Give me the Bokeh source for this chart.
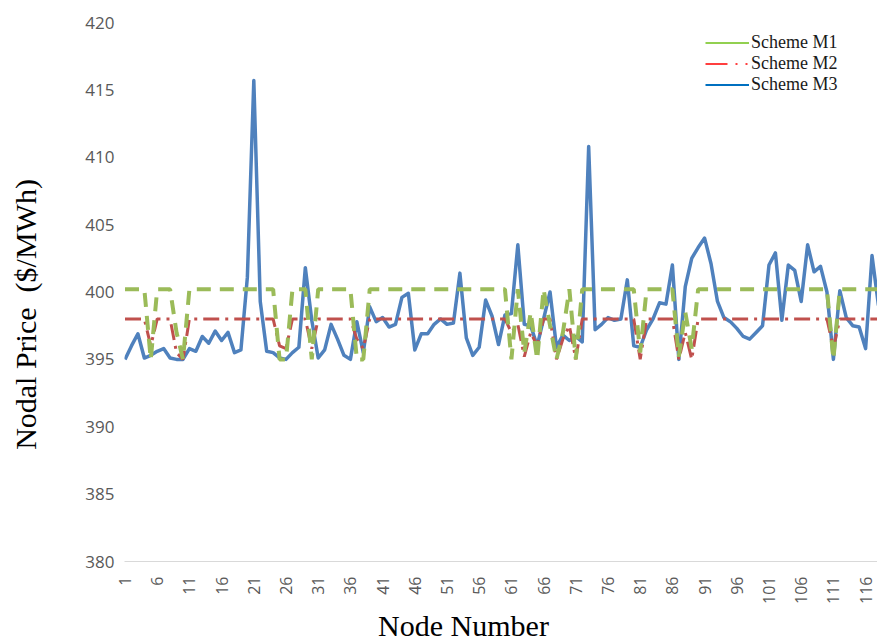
import math
from bokeh.plotting import figure
from bokeh.models import FixedTicker, Legend, LegendItem
from bokeh.embed import file_html
from bokeh.resources import INLINE

# ---------------- data ----------------
nodes = list(range(1, 119))

scheme_m3 = [
    395.0, 396.0, 396.9, 395.1, 395.3, 395.6, 395.8, 395.1, 395.0, 395.0,
    395.8, 395.6, 396.7, 396.2, 397.1, 396.4, 397.0, 395.5, 395.7, 401.1,
    415.7, 399.3, 395.6, 395.5, 395.1, 395.0, 395.5, 395.9, 401.8, 397.9,
    395.1, 395.7, 397.6, 396.5, 395.3, 395.0, 397.8, 395.5, 398.9, 397.8,
    398.1, 397.4, 397.6, 399.6, 399.9, 395.7, 396.9, 396.9, 397.6, 398.0,
    397.6, 397.7, 401.4, 396.6, 395.3, 395.9, 399.4, 398.2, 396.1, 398.3,
    398.4, 403.5, 397.6, 397.5, 396.0, 398.0, 400.0, 395.9, 396.8, 396.4,
    396.7, 396.3, 410.8, 397.2, 397.6, 398.1, 397.9, 398.0, 400.9, 396.0,
    395.9, 397.2, 398.0, 399.2, 399.1, 402.0, 395.0, 400.4, 402.5, 403.3,
    404.0, 402.1, 399.3, 398.1, 397.8, 397.3, 396.7, 396.5, 397.0, 397.5,
    402.0, 402.9, 397.9, 402.0, 401.6, 399.3, 403.5, 401.5, 401.9, 400.0,
    395.0, 400.1, 398.1, 397.5, 397.4, 395.8, 402.7, 399.0,
]

scheme_m1 = [
    400.2, 400.2, 400.2, 400.2, 395.0, 400.2, 400.2, 400.2, 397.0, 395.0,
    400.2, 400.2, 400.2, 400.2, 400.2, 400.2, 400.2, 400.2, 400.2, 400.2,
    400.2, 400.2, 400.2, 400.2, 395.0, 395.0, 400.2, 400.2, 400.2, 395.0,
    400.2, 400.2, 400.2, 400.2, 400.2, 400.2, 395.0, 395.0, 400.2, 400.2,
    400.2, 400.2, 400.2, 400.2, 400.2, 400.2, 400.2, 400.2, 400.2, 400.2,
    400.2, 400.2, 400.2, 400.2, 400.2, 400.2, 400.2, 400.2, 400.2, 400.2,
    395.0, 400.2, 395.5, 398.5, 395.0, 400.2, 397.5, 395.0, 397.0, 400.2,
    395.0, 400.2, 400.2, 400.2, 400.2, 400.2, 400.2, 400.2, 400.2, 400.2,
    395.5, 400.2, 400.2, 400.2, 400.2, 400.2, 395.2, 398.5, 395.8, 400.2,
    400.2, 400.2, 400.2, 400.2, 400.2, 400.2, 400.2, 400.2, 400.2, 400.2,
    400.2, 400.2, 400.2, 400.2, 400.2, 400.2, 400.2, 400.2, 400.2, 400.2,
    395.0, 400.2, 400.2, 400.2, 400.2, 400.2, 400.2, 400.2,
]

scheme_m2 = [
    398.0, 398.0, 398.0, 398.0, 396.0, 398.0, 398.0, 398.0, 395.5, 395.0,
    398.0, 398.0, 398.0, 398.0, 398.0, 398.0, 398.0, 398.0, 398.0, 398.0,
    398.0, 398.0, 398.0, 398.0, 396.0, 395.8, 398.0, 398.0, 398.0, 395.8,
    398.0, 398.0, 398.0, 398.0, 398.0, 398.0, 396.5, 395.8, 398.0, 398.0,
    398.0, 398.0, 398.0, 398.0, 398.0, 398.0, 398.0, 398.0, 398.0, 398.0,
    398.0, 398.0, 398.0, 398.0, 398.0, 398.0, 398.0, 398.0, 398.0, 398.0,
    397.0, 397.6, 395.2, 397.0, 396.0, 398.0, 398.0, 395.0, 396.5, 397.5,
    395.0, 398.0, 398.0, 398.0, 398.0, 398.0, 398.0, 398.0, 398.0, 398.0,
    395.0, 398.0, 398.0, 398.0, 398.0, 398.0, 395.0, 397.0, 395.0, 398.0,
    398.0, 398.0, 398.0, 398.0, 398.0, 398.0, 398.0, 398.0, 398.0, 398.0,
    398.0, 398.0, 398.0, 398.0, 398.0, 398.0, 398.0, 398.0, 398.0, 398.0,
    395.8, 398.0, 398.0, 398.0, 398.0, 398.0, 398.0, 398.0,
]

x_ticks = list(range(1, 117, 5))
y_ticks = [380, 385, 390, 395, 400, 405, 410, 415, 420]
series_names = ["Scheme M1", "Scheme M2", "Scheme M3"]

# ---------------- figure ----------------
p = figure(
    width=877, height=644,
    x_range=(0.92, 117.85), y_range=(380, 420),
    output_backend="svg", toolbar_location=None,
    min_border_left=124, min_border_right=0,
    min_border_top=22, min_border_bottom=83,
)
p.outline_line_color = None
p.xgrid.visible = False
p.ygrid.visible = False
p.background_fill_color = "white"
p.border_fill_color = "white"

# axes
tick_font = "Open Sans"
for ax in (p.xaxis, p.yaxis):
    ax.major_tick_line_color = None
    ax.minor_tick_line_color = None
    ax.major_label_text_color = "#595959"
    ax.major_label_text_font = tick_font
    ax.axis_label_text_font = "Liberation Serif"
    ax.axis_label_text_font_size = "30px"
    ax.axis_label_text_font_style = "normal"
    ax.axis_label_text_color = "#000000"

NB = "\u00a0"
p.xaxis.ticker = FixedTicker(ticks=x_ticks)
p.xaxis.major_label_orientation = math.pi / 2
p.xaxis.major_label_text_font_size = "16px"
p.xaxis.axis_line_color = "#D9D9D9"
p.xaxis.axis_line_width = 1.2
p.xaxis.major_label_standoff = 9
p.xaxis.axis_label = "Node Number" + NB * 10
p.xaxis.axis_label_standoff = 2

p.yaxis.ticker = FixedTicker(ticks=y_ticks)
p.yaxis.major_label_text_font_size = "17px"
p.yaxis.axis_line_color = None
p.yaxis.major_label_standoff = 4
p.yaxis.axis_label = "Nodal Price " + NB + "($/MWh)" + NB * 6
p.yaxis.axis_label_standoff = 40

# series lines (blue below, dashed lines above)
p.line(nodes, scheme_m3, line_color="#4F81BD", line_width=3.5, line_join="round")
p.line(nodes, scheme_m2, line_color="#C0504D", line_width=3, line_dash="16 6 3 6")
p.line(nodes, scheme_m1, line_color="#9BBB59", line_width=4, line_dash="14 9")

# legend samples (own colours as in the picture), placed outside the visible y range
off_x = [nodes[0], nodes[1]]
off_y = [300, 300]
lg1 = p.line(off_x, off_y, line_color="#92D050", line_width=2.2)
lg2 = p.line(off_x, off_y, line_color="#FF0000", line_width=1.5, line_dash="22 8 2 8 2 8")
lg3 = p.line(off_x, off_y, line_color="#0070C0", line_width=2.2)

legend = Legend(
    items=[
        LegendItem(label=series_names[0], renderers=[lg1]),
        LegendItem(label=series_names[1], renderers=[lg2]),
        LegendItem(label=series_names[2], renderers=[lg3]),
    ],
    location=(581, 466),
    border_line_color=None,
    background_fill_alpha=0,
    label_text_font="Liberation Serif",
    label_text_font_size="18px",
    label_text_color="#1a1a1a",
    glyph_width=44, glyph_height=21, label_height=21,
    spacing=0, padding=0, margin=0, label_standoff=2,
)
p.add_layout(legend)

open("out.html", "w").write(file_html(p, INLINE))
